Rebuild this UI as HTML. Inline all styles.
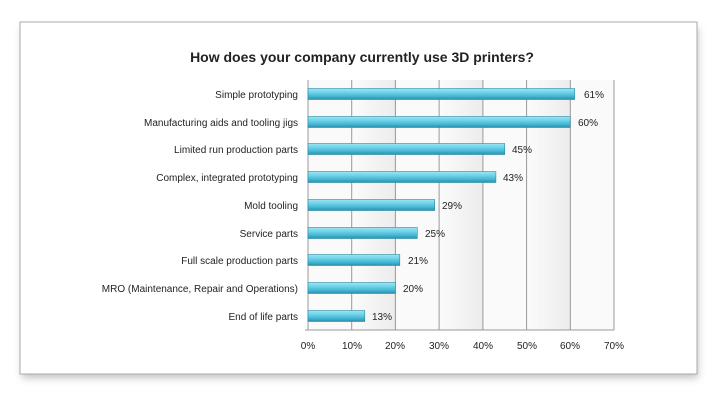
<!DOCTYPE html>
<html><head><meta charset="utf-8"><style>
html,body{margin:0;padding:0;background:#fff;width:720px;height:414px;overflow:hidden}
</style></head><body>
<svg width="720" height="414" xmlns="http://www.w3.org/2000/svg" font-family="Liberation Sans, sans-serif">
<defs>
<filter id="sh" x="-5%" y="-5%" width="110%" height="120%"><feGaussianBlur stdDeviation="4"/></filter>
<linearGradient id="bar" x1="0" y1="0" x2="0" y2="1">
<stop offset="0" stop-color="#9fe4f2"/><stop offset="0.35" stop-color="#6fd3ea"/><stop offset="0.75" stop-color="#3fb2cf"/><stop offset="1" stop-color="#2a8fab"/></linearGradient>
<linearGradient id="band" x1="0" y1="0" x2="1" y2="0">
<stop offset="0" stop-color="#fbfbfb"/><stop offset="1" stop-color="#ececec"/></linearGradient>
</defs>
<rect x="22" y="28" width="676" height="350" fill="#999" filter="url(#sh)" opacity="0.6"/>
<rect x="20" y="22" width="677" height="352" fill="#fff" stroke="#aaa" stroke-width="1"/>
<text x="362" y="62" text-anchor="middle" font-size="14" font-weight="bold" fill="#222">How does your company currently use 3D printers?</text>
<g>
<rect x="308" y="80" width="306" height="250" fill="#fafafa"/>
<rect x="352" y="80" width="43.7" height="250" fill="url(#band)"/>
<rect x="439" y="80" width="43.7" height="250" fill="url(#band)"/>
<rect x="527" y="80" width="43.7" height="250" fill="url(#band)"/>
</g>
<g stroke="#999" stroke-width="1">
<line x1="351.7" y1="80" x2="351.7" y2="330"/><line x1="395.4" y1="80" x2="395.4" y2="330"/>
<line x1="439.1" y1="80" x2="439.1" y2="330"/><line x1="482.9" y1="80" x2="482.9" y2="330"/>
<line x1="526.6" y1="80" x2="526.6" y2="330"/><line x1="570.3" y1="80" x2="570.3" y2="330"/>
<line x1="614" y1="80" x2="614" y2="330"/>
<line x1="308" y1="80" x2="308" y2="330"/><line x1="305" y1="330" x2="614" y2="330"/>
</g>
<g fill="url(#bar)" stroke="#2b8aa5" stroke-width="0.6">
<rect x="308" y="88.5" width="266.6" height="11"/>
<rect x="308" y="116.5" width="262.2" height="11"/>
<rect x="308" y="143.5" width="196.7" height="11"/>
<rect x="308" y="171.5" width="187.9" height="11"/>
<rect x="308" y="199.5" width="126.7" height="11"/>
<rect x="308" y="227.5" width="109.3" height="11"/>
<rect x="308" y="254.5" width="91.8" height="11"/>
<rect x="308" y="282.5" width="87.4" height="11"/>
<rect x="308" y="310.5" width="56.8" height="11"/>
</g>
<g font-size="10" fill="#222">
<g text-anchor="end">
<text x="298" y="98">Simple prototyping</text>
<text x="298" y="126">Manufacturing aids and tooling jigs</text>
<text x="298" y="153">Limited run production parts</text>
<text x="298" y="181">Complex, integrated prototyping</text>
<text x="298" y="209">Mold tooling</text>
<text x="298" y="237">Service parts</text>
<text x="298" y="264">Full scale production parts</text>
<text x="298" y="292">MRO (Maintenance, Repair and Operations)</text>
<text x="298" y="320">End of life parts</text>
</g>
<text x="584" y="98">61%</text><text x="578" y="126">60%</text><text x="512" y="153">45%</text>
<text x="503" y="181">43%</text><text x="442" y="209">29%</text><text x="425" y="237">25%</text>
<text x="408" y="264">21%</text><text x="403" y="292">20%</text><text x="372" y="320">13%</text>
<g text-anchor="middle">
<text x="308" y="349">0%</text><text x="352" y="349">10%</text><text x="395" y="349">20%</text>
<text x="439" y="349">30%</text><text x="483" y="349">40%</text><text x="527" y="349">50%</text>
<text x="570" y="349">60%</text><text x="614" y="349">70%</text>
</g>
</g>
</svg>
</body></html>
